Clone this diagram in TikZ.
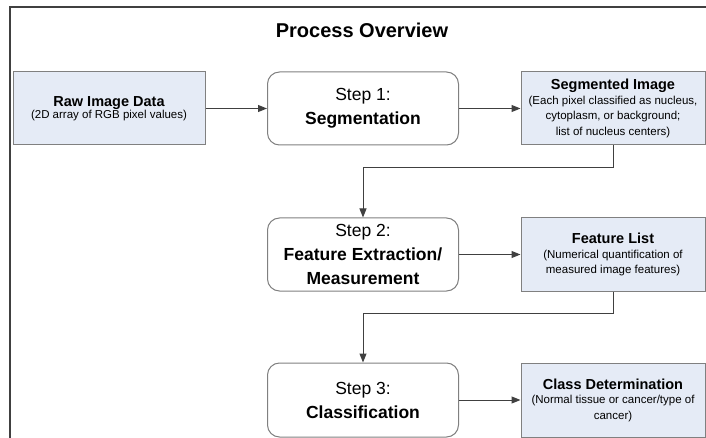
\documentclass[tikz,border=0pt]{standalone}
\usepackage{fontspec}
\setmainfont{Liberation Sans}
\usetikzlibrary{arrows.meta}

\definecolor{boxblue}{HTML}{E5EBF6}
\definecolor{boxline}{HTML}{808080}
\definecolor{frameline}{HTML}{404040}

\newcommand{\headfont}{\fontsize{14.5}{17}\selectfont\bfseries}
\newcommand{\notefont}{\fontsize{11.5}{15.5}\selectfont}
\newcommand{\stepfont}{\fontsize{17.5}{24}\selectfont}

\tikzset{
  databox/.style={draw=boxline, fill=boxblue, line width=1pt, minimum width=184pt, minimum height=73pt, align=center, inner sep=1pt, font=\notefont},
  stepbox/.style={draw=boxline, fill=white, line width=1pt, rounded corners=12pt, minimum width=191pt, minimum height=73pt, align=center, inner sep=1pt, font=\stepfont},
  flow/.style={draw=black!75, line width=1pt, -{Triangle[length=9pt,width=7pt]}}
}

\begin{document}
\begin{tikzpicture}[x=1pt, y=-1pt]
  \useasboundingbox (0,0) rectangle (706,438);

  % Frame and title
  \draw[frameline, line width=1.8pt] (10,438) -- (10,7) -- (706,7);
  \node[font=\fontsize{20}{24}\selectfont\bfseries] (title) at (362,30) {Process Overview};

  % Steps
  \node[stepbox] (step1) at (363,108.5) {Step 1:\\{\bfseries Segmentation}};
  \node[stepbox] (step2) at (363,254.5) {Step 2:\\{\bfseries Feature Extraction/}\\{\bfseries Measurement}};
  \node[stepbox, minimum height=74pt] (step3) at (363,400) {Step 3:\\{\bfseries Classification}};

  % Data
  \node[databox, minimum width=192pt] (raw) at (109,108.5) {{\headfont Raw Image Data}\\[-3pt](2D array of RGB pixel values)};
  \node[databox] (seg) at (613,108.5) {{\headfont Segmented Image}\\[-1pt](Each pixel classified as nucleus,\\cytoplasm, or background;\\list of nucleus centers)};
  \node[databox] (feat) at (613,254.5) {{\headfont Feature List}\\[-1pt](Numerical quantification of\\measured image features)};
  \node[databox, minimum height=74pt] (cls) at (613,400) {{\headfont Class Determination}\\[-1pt](Normal tissue or cancer/type of\\cancer)};

  % Connectors
  \draw[flow] (raw) -- (step1);
  \draw[flow] (step1) -- (seg);
  \draw[flow] (seg.south) -- ++(0,22) -| (step2.north);
  \draw[flow] (step2) -- (feat);
  \draw[flow] (feat.south) -- ++(0,22) -| (step3.north);
  \draw[flow] (step3) -- (cls);
\end{tikzpicture}
\end{document}
